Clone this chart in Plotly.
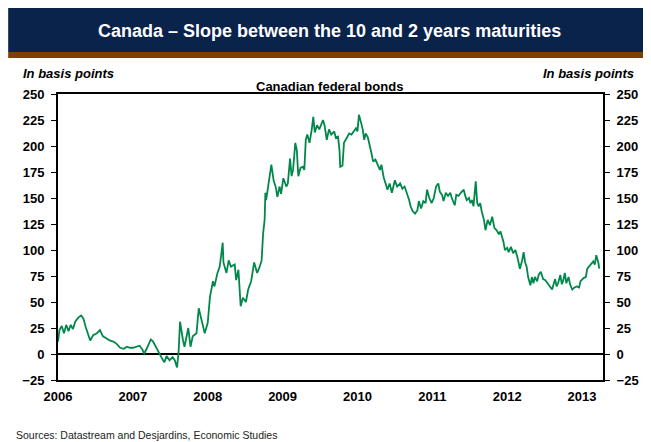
import plotly.graph_objects as go

# ---- data (decimal years, basis points) ----
years = [
    2006.00, 2006.02, 2006.05, 2006.08, 2006.11, 2006.14, 2006.17, 2006.20, 2006.23, 2006.27,
    2006.31, 2006.34, 2006.37, 2006.41, 2006.43, 2006.47, 2006.52, 2006.56, 2006.60, 2006.65,
    2006.69, 2006.74, 2006.78, 2006.83, 2006.88, 2006.92, 2006.96, 2007.00, 2007.05, 2007.09,
    2007.13, 2007.15, 2007.19, 2007.24, 2007.27, 2007.31, 2007.35, 2007.38, 2007.42, 2007.45,
    2007.49, 2007.53, 2007.56, 2007.59, 2007.61, 2007.63, 2007.67, 2007.69, 2007.74, 2007.77,
    2007.80, 2007.85, 2007.88, 2007.91, 2007.96, 2008.00, 2008.03, 2008.07, 2008.09, 2008.13,
    2008.16, 2008.18, 2008.20, 2008.21, 2008.25, 2008.28, 2008.31, 2008.36, 2008.38, 2008.41,
    2008.44, 2008.47, 2008.51, 2008.54, 2008.58, 2008.60, 2008.62, 2008.66, 2008.69, 2008.72,
    2008.74, 2008.76, 2008.77, 2008.78, 2008.80, 2008.82, 2008.85, 2008.88, 2008.91, 2008.93,
    2008.96, 2008.98, 2009.01, 2009.05, 2009.07, 2009.10, 2009.12, 2009.14, 2009.17, 2009.19,
    2009.21, 2009.24, 2009.27, 2009.29, 2009.31, 2009.33, 2009.36, 2009.39, 2009.41, 2009.43,
    2009.46, 2009.49, 2009.51, 2009.54, 2009.56, 2009.59, 2009.62, 2009.65, 2009.69, 2009.71,
    2009.74, 2009.76, 2009.77, 2009.80, 2009.82, 2009.86, 2009.89, 2009.92, 2009.95, 2009.98,
    2010.00, 2010.02, 2010.05, 2010.07, 2010.09, 2010.11, 2010.14, 2010.17, 2010.19, 2010.21,
    2010.24, 2010.27, 2010.30, 2010.32, 2010.35, 2010.38, 2010.40, 2010.43, 2010.46, 2010.50,
    2010.53, 2010.57, 2010.60, 2010.63, 2010.66, 2010.69, 2010.71, 2010.74, 2010.77, 2010.80,
    2010.82, 2010.85, 2010.88, 2010.91, 2010.93, 2010.96, 2010.99, 2011.02, 2011.05, 2011.08,
    2011.10, 2011.13, 2011.15, 2011.18, 2011.21, 2011.24, 2011.26, 2011.30, 2011.32, 2011.35,
    2011.38, 2011.42, 2011.44, 2011.46, 2011.49, 2011.51, 2011.53, 2011.55, 2011.58, 2011.60,
    2011.62, 2011.64, 2011.66, 2011.69, 2011.71, 2011.74, 2011.77, 2011.80, 2011.83, 2011.86,
    2011.89, 2011.91, 2011.93, 2011.95, 2011.97, 2012.00, 2012.02, 2012.05, 2012.08, 2012.11,
    2012.14, 2012.17, 2012.20, 2012.22, 2012.24, 2012.26, 2012.28, 2012.31, 2012.33, 2012.35,
    2012.37, 2012.40, 2012.42, 2012.45, 2012.48, 2012.51, 2012.54, 2012.57, 2012.60, 2012.62,
    2012.64, 2012.66, 2012.68, 2012.71, 2012.73, 2012.75, 2012.77, 2012.79, 2012.82, 2012.84,
    2012.87, 2012.90, 2012.93, 2012.96, 2012.98, 2013.02, 2013.05, 2013.07, 2013.11, 2013.13,
    2013.15, 2013.17, 2013.19, 2013.22, 2013.23,
]
slope_bp = [
    12, 23, 27, 20, 28, 22, 28, 24, 31, 35,
    37, 34, 26, 16, 13, 18, 20, 23, 17, 15,
    13, 12, 10, 6, 5, 7, 6, 6, 7, 8,
    4, 0, 6, 14, 12, 6, 0, -3, -8, -2,
    -6, -3, -6, -13, 1, 31, 13, 7, 25, 7,
    17, 20, 44, 36, 20, 30, 55, 70, 65, 78,
    84, 95, 107, 88, 78, 90, 84, 86, 71, 81,
    46, 54, 50, 62, 70, 79, 88, 78, 83, 90,
    116, 129, 155, 148, 158, 171, 182, 167, 160, 151,
    161, 154, 169, 161, 164, 188, 171, 177, 203, 196,
    171, 179, 180, 177, 206, 211, 203, 216, 228, 213,
    220, 216, 219, 225, 220, 206, 216, 211, 214, 208,
    209, 196, 180, 181, 203, 209, 212, 211, 214, 217,
    214, 230, 222, 216, 206, 212, 208, 200, 192, 185,
    187, 182, 177, 182, 170, 163, 158, 164, 155, 167,
    161, 164, 159, 161, 155, 148, 142, 137, 135, 138,
    147, 140, 147, 145, 158, 150, 145, 150, 161, 164,
    156, 153, 147, 155, 152, 155, 150, 143, 153, 152,
    155, 158, 152, 148, 150, 145, 148, 142, 166, 145,
    142, 145, 137, 129, 119, 129, 124, 132, 121, 119,
    115, 118, 113, 108, 100, 102, 98, 103, 97, 100,
    92, 82, 90, 98, 88, 84, 74, 66, 74, 68,
    74, 70, 76, 79, 72, 71, 68, 65, 62, 67,
    72, 65, 68, 76, 67, 71, 78, 68, 74, 67,
    62, 64, 65, 64, 70, 73, 74, 82, 86, 87,
    89, 86, 95, 87, 82,
]
year_ticks = [2006, 2007, 2008, 2009, 2010, 2011, 2012, 2013]
y_ticks = [-25, 0, 25, 50, 75, 100, 125, 150, 175, 200, 225, 250]

title_text = "Canada \u2013 Slope between the 10 and 2 years maturities"
subtitle_text = "Canadian federal bonds"
unit_text = "In basis points"
source_text = "Sources: Datastream and Desjardins, Economic Studies"

# ---- layout geometry (pixels in the browser window) ----
OFF = 8  # default page body margin
W, H = 651 - OFF, 442 - OFF
L, R, T, B = 58, 605, 94, 380   # plot area in window pixels
pw, ph = R - L, B - T


def px(x):
    return (x - L) / pw


def py(y):
    return (B - y) / ph


FONT = "Liberation Sans, Arial, sans-serif"
GREEN = "#00884A"

fig = go.Figure()
fig.add_trace(go.Scatter(
    x=years, y=slope_bp, mode="lines",
    line=dict(color=GREEN, width=1.8), showlegend=False, hoverinfo="skip",
))
fig.add_trace(go.Scatter(
    x=years, y=slope_bp, mode="lines", yaxis="y2",
    line=dict(color=GREEN, width=0), opacity=0, showlegend=False, hoverinfo="skip",
))

axis_font = dict(family=FONT, size=13, color="black", weight="bold")

fig.update_layout(
    width=W, height=H,
    margin=dict(l=L - OFF, r=651 - R, t=T - OFF, b=442 - B),
    paper_bgcolor="white", plot_bgcolor="white",
    xaxis=dict(
        range=[2006, 2013.28], tickmode="array", tickvals=year_ticks,
        ticktext=[str(v) for v in year_ticks],
        showgrid=False, zeroline=False, showline=True, linecolor="black",
        linewidth=2, mirror=True, ticks="", tickfont=axis_font, ticklabelstandoff=3,
    ),
    yaxis=dict(
        range=[-25, 250], tickmode="array", tickvals=y_ticks,
        showgrid=False, zeroline=True, zerolinecolor="black", zerolinewidth=1.5,
        showline=True, linecolor="black", linewidth=2,
        ticks="outside", ticklen=5, tickwidth=1, tickcolor="black",
        tickfont=axis_font, ticklabelstandoff=4,
    ),
    yaxis2=dict(
        range=[-25, 250], tickmode="array", tickvals=y_ticks,
        overlaying="y", side="right",
        showgrid=False, zeroline=False,
        showline=True, linecolor="black", linewidth=2,
        ticks="outside", ticklen=5, tickwidth=1, tickcolor="black",
        tickfont=axis_font, ticklabelstandoff=4,
    ),
    shapes=[
        dict(type="rect", xref="paper", yref="paper",
             x0=px(8), x1=px(655), y0=py(52), y1=py(7),
             fillcolor="#0A234B", line=dict(width=0), layer="above"),
        dict(type="rect", xref="paper", yref="paper",
             x0=px(8), x1=px(655), y0=py(58), y1=py(52),
             fillcolor="#7E3F00", line=dict(width=0), layer="above"),
    ],
    annotations=[
        dict(text=title_text, xref="paper", yref="paper", x=px(330), y=py(31),
             xanchor="center", yanchor="middle", showarrow=False,
             font=dict(family=FONT, size=18, color="white", weight="bold")),
        dict(text=unit_text, xref="paper", yref="paper", x=px(21), y=py(73),
             xanchor="left", yanchor="middle", showarrow=False,
             font=dict(family=FONT, size=13, color="black", weight="bold", style="italic")),
        dict(text=unit_text, xref="paper", yref="paper", x=px(638), y=py(73),
             xanchor="right", yanchor="middle", showarrow=False,
             font=dict(family=FONT, size=13, color="black", weight="bold", style="italic")),
        dict(text=subtitle_text, xref="paper", yref="paper", x=px(330), y=py(86),
             xanchor="center", yanchor="middle", showarrow=False,
             font=dict(family=FONT, size=13, color="black", weight="bold")),
        dict(text=source_text, xref="paper", yref="paper", x=px(14), y=py(435),
             xanchor="left", yanchor="middle", showarrow=False,
             font=dict(family=FONT, size=10.5, color="#222222")),
    ],
)

fig.write_html("out.html")
